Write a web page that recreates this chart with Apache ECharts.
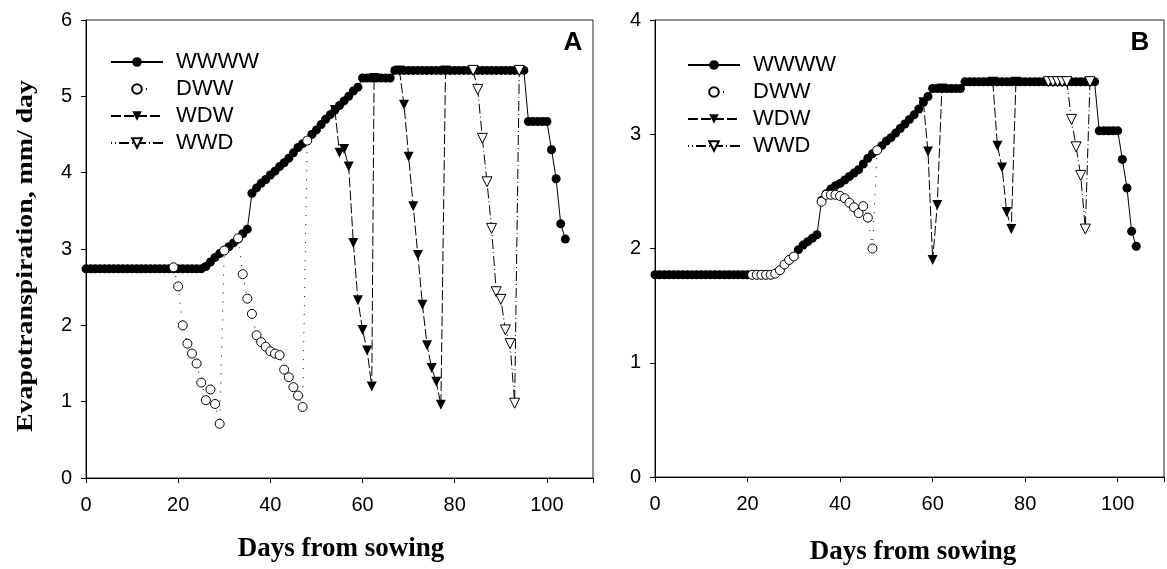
<!DOCTYPE html>
<html>
<head>
<meta charset="utf-8">
<script src="https://cdn.jsdelivr.net/npm/echarts@6/dist/echarts.min.js"></script>
<style>html,body{margin:0;padding:0;background:#fff}#c{width:1167px;height:569px}</style>
</head>
<body>
<div id="c"></div>
<script>
// ---------- data ----------
const xTicks = [0, 20, 40, 60, 80, 100];
const daysFull = [0,1,2,3,4,5,6,7,8,9,10,11,12,13,14,15,16,17,18,19,20,21,22,23,24,25,26,27,28,29,30,31,32,33,34,35,36,37,38,39,40,41,42,43,44,45,46,47,48,49,50,51,52,53,54,55,56,57,58,59,60,61,62,63,64,65,66,67,68,69,70,71,72,73,74,75,76,77,78,79,80,81,82,83,84,85,86,87,88,89,90,91,92,93,94,95,96,97,98,99,100,101,102,103,104];

// Panel A
const wwwwA = [2.74,2.74,2.74,2.74,2.74,2.74,2.74,2.74,2.74,2.74,2.74,2.74,2.74,2.74,2.74,2.74,2.74,2.74,2.74,2.74,2.74,2.74,2.74,2.74,2.74,2.74,
  2.77,2.83,2.89,2.94,2.98,3.03,3.08,3.13,3.20,3.26,
  3.73,3.80,3.86,3.91,3.97,4.02,4.08,4.13,4.19,4.26,4.33,4.38,4.42,4.50,4.56,4.63,4.70,4.76,4.82,4.88,4.94,5.00,5.07,5.12,
  5.24,5.24,5.24,5.24,5.24,5.24,5.24,
  5.34,5.34,5.34,5.34,5.34,5.34,5.34,5.34,5.34,5.34,5.34,5.34,5.34,5.34,5.34,5.34,5.34,5.34,5.34,5.34,5.34,5.34,5.34,5.34,5.34,5.34,5.34,5.34,5.34,
  4.67,4.67,4.67,4.67,4.67,4.30,3.92,3.33,3.13];
const dwwDaysA = [19,20,21,22,23,24,25,26,27,28,29,30,31,33,34,35,36,37,38,39,40,41,42,43,44,45,46,47,48];
const dwwA = [2.76,2.51,2.00,1.76,1.63,1.50,1.25,1.02,1.16,0.97,0.71,2.98,null,3.14,2.67,2.35,2.15,1.87,1.78,1.72,1.66,1.63,1.61,1.42,1.32,1.19,1.08,0.93,4.42];
const wdwDaysA = [54,55,56,57,58,59,60,61,62,62.5,63,68,69,70,71,72,73,74,75,76,77,78];
const wdwA = [4.82,4.26,4.31,4.08,3.08,2.33,1.94,1.67,1.20,5.24,null,5.34,4.89,4.21,3.56,2.92,2.27,1.74,1.44,1.26,0.96,5.34];
const wwdDaysA = [84,85,86,87,88,89,90,91,92,93,94];
const wwdA = [5.34,5.09,4.45,3.88,3.27,2.44,2.34,1.94,1.76,0.98,5.34];

// Panel B
const wwwwB = [1.77,1.77,1.77,1.77,1.77,1.77,1.77,1.77,1.77,1.77,1.77,1.77,1.77,1.77,1.77,1.77,1.77,1.77,1.77,1.77,1.77,1.77,1.77,1.77,1.77,1.77,
  1.78,1.81,1.86,1.90,1.93,1.99,2.03,2.06,2.09,2.12,
  2.42,2.48,2.52,2.55,2.57,2.60,2.63,2.66,2.69,2.74,2.79,2.83,2.86,2.90,2.94,2.97,3.01,3.05,3.09,3.13,3.17,3.22,3.28,3.33,
  3.40,3.40,3.40,3.40,3.40,3.40,3.40,
  3.46,3.46,3.46,3.46,3.46,3.46,3.46,3.46,3.46,3.46,3.46,3.46,3.46,3.46,3.46,3.46,3.46,3.46,3.46,3.46,3.46,3.46,3.46,3.46,3.46,3.46,3.46,3.46,3.46,
  3.03,3.03,3.03,3.03,3.03,2.78,2.53,2.15,2.02];
const dwwDaysB = [21,22,23,24,25,26,27,28,29,30,31,36,37,38,39,40,41,42,43,44,45,46,47,48];
const dwwB = [1.77,1.77,1.77,1.77,1.77,1.78,1.81,1.86,1.90,1.93,null,2.41,2.47,2.47,2.47,2.46,2.44,2.40,2.36,2.31,2.37,2.27,2.00,2.86];
const wdwDaysB = [58,59,60,61,62,63,73,74,75,76,77,78];
const wdwB = [3.28,2.85,1.90,2.38,3.40,null,3.46,2.90,2.71,2.32,2.17,3.46];
const wwdDaysB = [85,86,87,88,89,90,91,92,93,94];
const wwdB = [3.46,3.46,3.46,3.46,3.46,3.13,2.89,2.64,2.17,3.46];

const names = ['WWWW', 'DWW', 'WDW', 'WWD'];

// ---------- chart ----------
const pair = (xs, ys) => xs.map((x, i) => [x, ys[i]]);
const SANS = "'Liberation Sans', Arial, sans-serif";
const SERIF = "'Liberation Serif', 'Times New Roman', serif";

function makeX(idx) {
  return {
    type: 'value', gridIndex: idx, min: 0, max: 110, interval: 20,
    axisLine: { show: true, lineStyle: { color: '#000', width: 1 } },
    axisTick: { show: true, inside: false, length: 5, lineStyle: { color: '#000' } },
    axisLabel: { color: '#000', fontFamily: SANS, fontSize: 20, margin: 17,
      formatter: v => (xTicks.indexOf(v) >= 0 ? String(v) : '') },
    splitLine: { show: false }
  };
}
function makeY(idx, max) {
  return {
    type: 'value', gridIndex: idx, min: 0, max: max, interval: 1,
    axisLine: { show: true, lineStyle: { color: '#000', width: 1 } },
    axisTick: { show: true, inside: false, length: 5, lineStyle: { color: '#000' } },
    axisLabel: { color: '#000', fontFamily: SANS, fontSize: 20, margin: 14 },
    splitLine: { show: false }
  };
}
function seriesSet(idx, wwww, dwwD, dww, wdwD, wdw, wwdD, wwd) {
  return [
    { name: 'WWWW', type: 'line', xAxisIndex: idx, yAxisIndex: idx, z: 2,
      data: pair(daysFull, wwww), symbol: 'circle', symbolSize: 9,
      itemStyle: { color: '#000' }, lineStyle: { color: '#000', width: 1, type: 'solid' } },
    { name: 'WDW', type: 'line', xAxisIndex: idx, yAxisIndex: idx, z: 3,
      data: pair(wdwD, wdw), symbol: 'triangle', symbolRotate: 180, symbolSize: 10,
      itemStyle: { color: '#000' }, lineStyle: { color: '#000', width: 1, type: [10, 3] } },
    { name: 'DWW', type: 'line', xAxisIndex: idx, yAxisIndex: idx, z: 4,
      data: pair(dwwD, dww), symbol: 'circle', symbolSize: 9,
      itemStyle: { color: '#fff', borderColor: '#000', borderWidth: 1 },
      lineStyle: { color: '#000', width: 1, type: [1, 8] } },
    { name: 'WWD', type: 'line', xAxisIndex: idx, yAxisIndex: idx, z: 5,
      data: pair(wwdD, wwd), symbol: 'triangle', symbolRotate: 180, symbolSize: 10,
      itemStyle: { color: '#fff', borderColor: '#000', borderWidth: 1 },
      lineStyle: { color: '#000', width: 1, type: [10, 3, 1, 3] } }
  ];
}
function makeLegend(left, top) {
  return {
    orient: 'vertical', left: left, top: top,
    data: [
      { name: 'WWWW' },
      { name: 'DWW', lineStyle: { type: [1, 60], dashOffset: 26 } },
      { name: 'WDW' },
      { name: 'WWD' }
    ],
    itemWidth: 52, itemHeight: 12, itemGap: 5, padding: 0,
    selectedMode: false,
    textStyle: { color: '#000', fontFamily: SANS, fontSize: 22, padding: [0, 0, 0, 8] }
  };
}

const chart = echarts.init(document.getElementById('c'), null, { renderer: 'canvas' });
chart.setOption({
  animation: false,
  backgroundColor: '#fff',
  grid: [
    { left: 86, top: 20, width: 507, height: 458, show: true, borderColor: '#222', borderWidth: 1, backgroundColor: 'transparent' },
    { left: 655, top: 20, width: 510, height: 457, show: true, borderColor: '#222', borderWidth: 1, backgroundColor: 'transparent' }
  ],
  xAxis: [makeX(0), makeX(1)],
  yAxis: [makeY(0, 6), makeY(1, 4)],
  legend: [makeLegend(110, 51), makeLegend(687, 54)],
  series: [].concat(
    seriesSet(0, wwwwA, dwwDaysA, dwwA, wdwDaysA, wdwA, wwdDaysA, wwdA),
    seriesSet(1, wwwwB, dwwDaysB, dwwB, wdwDaysB, wdwB, wwdDaysB, wwdB)
  ),
  graphic: [
    { type: 'text', x: 26, y: 256, rotation: Math.PI / 2, scaleX: 1.16,
      style: { text: 'Evapotranspiration, mm/ day', font: 'bold 24px ' + SERIF, fill: '#000', textAlign: 'center', textVerticalAlign: 'middle' } },
    { type: 'text', x: 341, y: 549,
      style: { text: 'Days from sowing', font: 'bold 27px ' + SERIF, fill: '#000', textAlign: 'center', textVerticalAlign: 'middle' } },
    { type: 'text', x: 913, y: 552,
      style: { text: 'Days from sowing', font: 'bold 27px ' + SERIF, fill: '#000', textAlign: 'center', textVerticalAlign: 'middle' } },
    { type: 'text', x: 573, y: 43,
      style: { text: 'A', font: 'bold 26px ' + SANS, fill: '#000', textAlign: 'center', textVerticalAlign: 'middle' } },
    { type: 'text', x: 1140, y: 43,
      style: { text: 'B', font: 'bold 26px ' + SANS, fill: '#000', textAlign: 'center', textVerticalAlign: 'middle' } }
  ]
});
</script>
</body>
</html>
